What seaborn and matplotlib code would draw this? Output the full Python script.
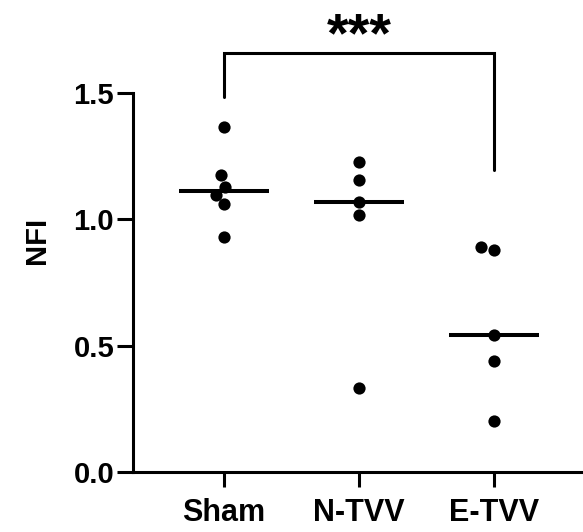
import matplotlib
matplotlib.use("Agg")
import matplotlib.pyplot as plt
import seaborn as sns
import pandas as pd

groups = ["Sham", "N-TVV", "E-TVV"]
sham = [1.367, 1.176, 1.130, 1.097, 1.060, 0.929]
ntvv = [1.226, 1.156, 1.070, 1.017, 0.330]
etvv = [0.889, 0.879, 0.542, 0.440, 0.201]
yticks = [0.0, 0.5, 1.0, 1.5]
sig_label = "***"

df = pd.DataFrame({
    "group": ["Sham"] * len(sham) + ["N-TVV"] * len(ntvv) + ["E-TVV"] * len(etvv),
    "NFI": sham + ntvv + etvv,
})

sns.set_style("ticks")
plt.rcParams["font.family"] = ["Liberation Sans", "DejaVu Sans"]
plt.rcParams["font.weight"] = "bold"
plt.rcParams["text.color"] = "black"
plt.rcParams["axes.labelcolor"] = "black"
plt.rcParams["xtick.color"] = "black"
plt.rcParams["ytick.color"] = "black"
plt.rcParams["axes.edgecolor"] = "black"

fig = plt.figure(figsize=(5.83, 5.32), dpi=100)
ax = fig.add_axes([0.228, 0.1133, 0.77, 0.868])

sns.swarmplot(data=df, x="group", y="NFI", order=groups, color="black",
              size=8.8, ax=ax, zorder=3)
sns.boxplot(data=df, x="group", y="NFI", order=groups, width=0.667,
            showbox=False, showcaps=False, showfliers=False, whis=0,
            medianprops=dict(color="black", lw=2.9, solid_capstyle="butt"),
            whiskerprops=dict(visible=False), ax=ax, zorder=2)

ax.set_xlim(-0.674, 2.65)
ax.set_ylim(0, 1.83)
ax.set_yticks(yticks)
ax.set_yticklabels([f"{v:.1f}" for v in yticks])
ax.spines["left"].set_bounds(0, 1.5)
for s in ["top", "right"]:
    ax.spines[s].set_visible(False)
for s in ["left", "bottom"]:
    ax.spines[s].set_linewidth(2.2)
    ax.spines[s].set_color("black")
ax.tick_params(axis="y", length=11.5, width=2.2, pad=2, labelsize=21,
               colors="black")
ax.tick_params(axis="x", length=11, width=2.2, pad=8, labelsize=22,
               colors="black")
for lab in ax.get_xticklabels() + ax.get_yticklabels():
    lab.set_fontweight("bold")
ax.set_xlabel("")
ax.set_ylabel("NFI", fontsize=21, fontweight="bold", labelpad=16,
              color="black")

# significance bracket between Sham and E-TVV
x1, x2 = 0, 2
ax.plot([x1, x1, x2, x2], [1.486, 1.661, 1.661, 1.196], color="black",
        lw=2.2, solid_joinstyle="miter", clip_on=False)
ax.text((x1 + x2) / 2, 1.668, sig_label, ha="center", va="baseline",
        fontsize=40, fontweight="bold", color="black")

fig.savefig("out.png", dpi=100)
